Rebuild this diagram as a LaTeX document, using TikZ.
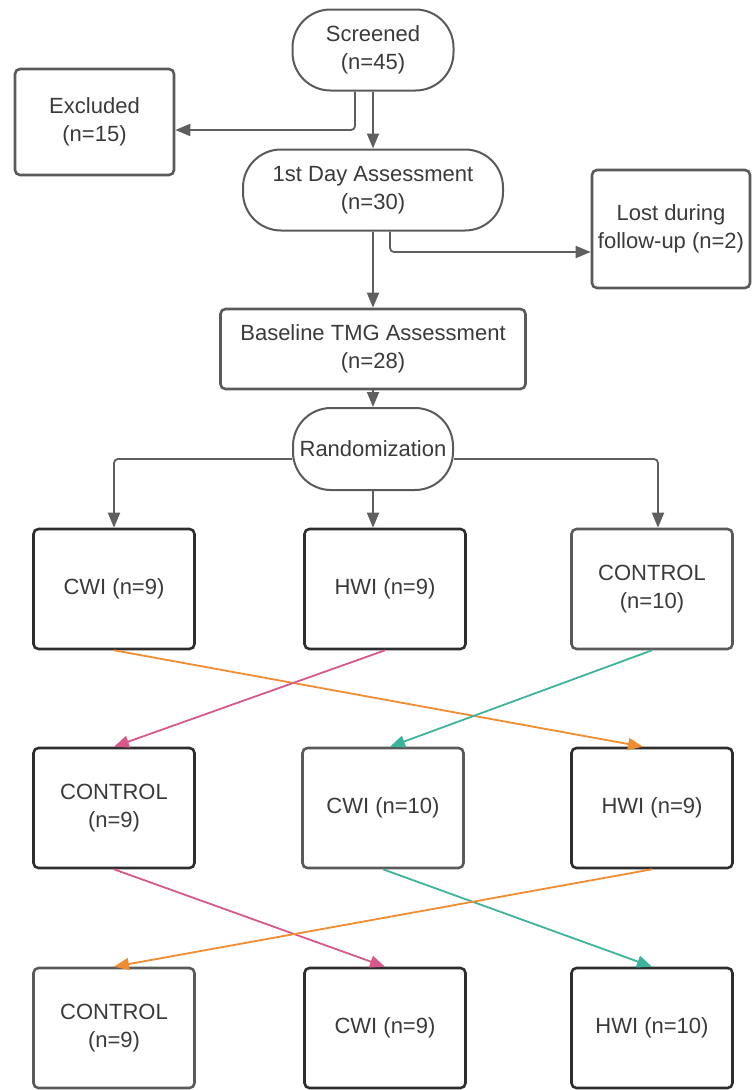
\documentclass[tikz,border=0pt]{standalone}
\usepackage{fontspec}
\setmainfont{Liberation Sans}
\usetikzlibrary{arrows.meta}
\definecolor{linegray}{HTML}{5F5F5F}
\definecolor{darkline}{HTML}{2E2E2E}
\definecolor{lightline}{HTML}{5A5A5A}
\definecolor{textgray}{HTML}{3A3A3A}
\definecolor{arrorange}{HTML}{F08C32}
\definecolor{arrpink}{HTML}{D9588C}
\definecolor{arrteal}{HTML}{3DB39C}
\tikzset{
	box/.style={draw=darkline, line width=2.6pt, rounded corners=5pt, align=center,
			inner sep=0pt, minimum width=161pt, minimum height=120pt, text=textgray},
	lightbox/.style={box, draw=lightline},
	term/.style={box, draw=lightline, line width=2pt, rounded corners=38pt, minimum height=81pt},
	conn/.style={draw=linegray, line width=1.8pt, -{Triangle[length=15pt,width=12pt]}},
	cross/.style={draw=#1, line width=1.8pt, -{Triangle[length=15pt,width=12pt]}}
}

\begin{document}
\begin{tikzpicture}[x=1pt, y=-1pt, font=\fontsize{22}{28}\selectfont]
	\useasboundingbox (0,0) rectangle (753,1090);

	% Enrolment
	\node[term, minimum width=161pt] (scr) at (373,50) {Screened\\(n=45)};
	\node[lightbox, minimum width=159pt, minimum height=106pt] (excl) at (94.5,122) {Excluded\\(n=15)};
	\node[term, minimum width=260pt] (day) at (373,190) {1st Day Assessment\\(n=30)};
	\node[lightbox, minimum width=158pt, minimum height=118pt] (lost) at (671,229) {Lost during\\follow-up (n=2)};
	\node[lightbox, minimum width=305pt, minimum height=80pt] (base) at (373,349) {Baseline TMG Assessment\\(n=28)};
	\node[term, minimum width=160pt, minimum height=82pt] (rand) at (373,449) {Randomization};

	% First period
	\node[box] (cwiA) at (114,589) {CWI (n=9)};
	\node[box] (hwiA) at (385,589) {HWI (n=9)};
	\node[lightbox] (conA) at (652,589) {CONTROL\\(n=10)};

	% Second period
	\node[box] (conB) at (114,808) {CONTROL\\(n=9)};
	\node[lightbox] (cwiB) at (383,808) {CWI (n=10)};
	\node[box] (hwiB) at (652,808) {HWI (n=9)};

	% Third period
	\node[lightbox] (conC) at (114,1028) {CONTROL\\(n=9)};
	\node[box] (cwiC) at (385,1028) {CWI (n=9)};
	\node[box] (hwiC) at (652,1028) {HWI (n=10)};

	% Flow lines
	\draw[conn, rounded corners=4pt] ([xshift=-18pt]scr.south) |- ([yshift=-8pt]excl.east);
	\draw[conn] (scr.south) -- (day.north);
	\draw[conn, rounded corners=4pt] ([xshift=17pt]day.south) |- ([yshift=-23pt]lost.west);
	\draw[conn] (day.south) -- (base.north);
	\draw[conn] (base.south) -- (rand.north);
	\draw[conn, rounded corners=4pt] ([yshift=-10pt]rand.west) -| (cwiA.north);
	\draw[conn] (rand.south) -- (rand.south |- hwiA.north);
	\draw[conn, rounded corners=4pt] ([yshift=-10pt]rand.east) -| ([xshift=6pt]conA.north);

	% Crossover
	\draw[cross=arrorange] (cwiA.south) -- ([xshift=-9pt]hwiB.north);
	\draw[cross=arrpink] (hwiA.south) -- (conB.north);
	\draw[cross=arrteal] (conA.south) -- ([xshift=7pt]cwiB.north);
	\draw[cross=arrpink] (conB.south) -- (cwiC.north);
	\draw[cross=arrteal] (cwiB.south) -- (hwiC.north);
	\draw[cross=arrorange] (hwiB.south) -- (conC.north);
\end{tikzpicture}
\end{document}
